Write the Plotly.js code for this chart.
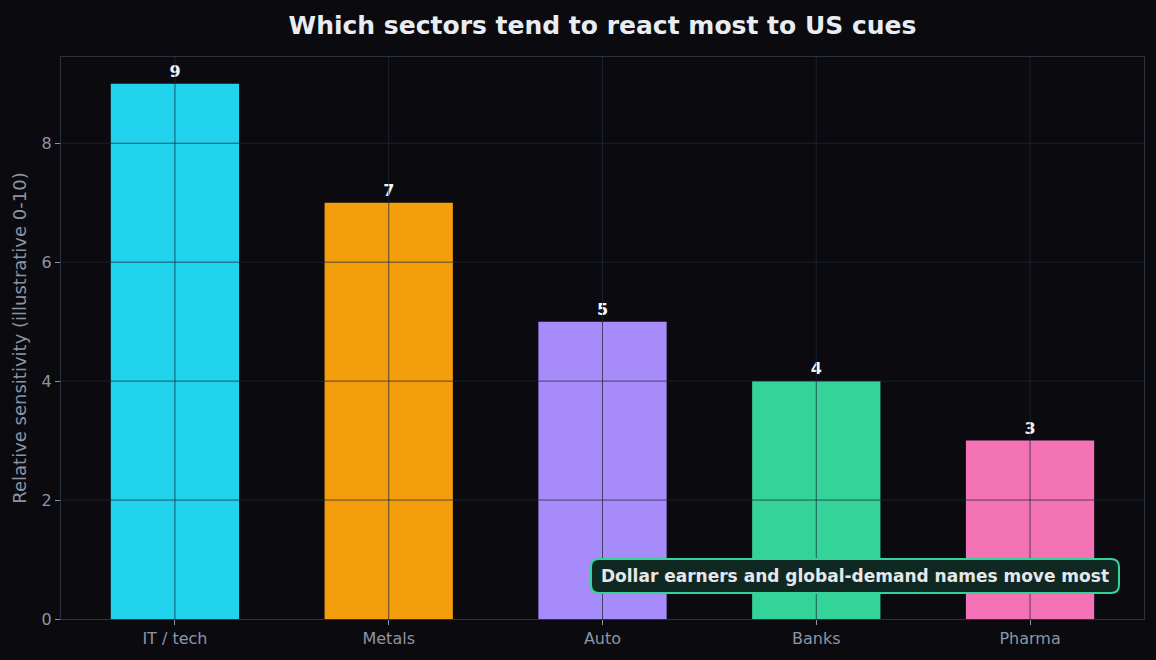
<!DOCTYPE html>
<html><head><meta charset="utf-8">
<script src="https://cdn.plot.ly/plotly-3.0.1.min.js"></script>
<style>html,body{margin:0;padding:0;background:#0b0b0f;}</style>
</head><body>
<div id="chart" style="width:1156px;height:660px;"></div>
<script>
const sectors = ["IT / tech", "Metals", "Auto", "Banks", "Pharma"];
const sensitivity = [9, 7, 5, 4, 3];
const barColors = ["#22d3ee", "#f59e0b", "#a78bfa", "#34d399", "#f472b6"];
const yTicks = [0, 2, 4, 6, 8];
const chartTitle = "Which sectors tend to react most to US cues";
const yTitle = "Relative sensitivity (illustrative 0-10)";
const note = "Dollar earners and global-demand names move most";

const W = 1156, H = 660;
const M = {l: 61, r: 12, t: 57, b: 41};
const PW = W - M.l - M.r, PH = H - M.t - M.b;
const gridColor = "rgba(30,41,59,0.75)";

const trace = {
  type: "bar",
  x: sectors,
  y: sensitivity,
  width: 0.6,
  marker: {color: barColors, line: {width: 0}},
  text: sensitivity.map(v => "<b>" + v + "</b>"),
  textposition: "outside",
  cliponaxis: false,
  textfont: {family: "DejaVu Sans", size: 16, color: "#f1f5f9"},
  hoverinfo: "x+y"
};

// gridlines drawn above the bars (as in the reference)
const shapes = [];
yTicks.slice(1).forEach(v => shapes.push({type: "line", xref: "paper", yref: "y", x0: 0, x1: 1, y0: v, y1: v,
  line: {color: gridColor, width: 1}, layer: "above"}));
sectors.forEach(c => shapes.push({type: "line", xref: "x", yref: "paper", x0: c, x1: c, y0: 0, y1: 1,
  line: {color: gridColor, width: 1}, layer: "above"}));

// rounded box behind the note (pixel box converted to paper units)
function px2x(p){ return (p - M.l) / PW; }
function px2y(p){ return (H - M.b - p) / PH; }
const bx0 = 591, bx1 = 1119, by0 = 559, by1 = 593, r = 8;
const rx = r / PW, ry = r / PH;
const X0 = px2x(bx0), X1 = px2x(bx1), Yt = px2y(by0), Yb = px2y(by1);
const path = `M ${X0+rx},${Yt} L ${X1-rx},${Yt} Q ${X1},${Yt} ${X1},${Yt-ry} L ${X1},${Yb+ry} Q ${X1},${Yb} ${X1-rx},${Yb} L ${X0+rx},${Yb} Q ${X0},${Yb} ${X0},${Yb+ry} L ${X0},${Yt-ry} Q ${X0},${Yt} ${X0+rx},${Yt} Z`;
shapes.push({type: "path", xref: "paper", yref: "paper", path: path,
  fillcolor: "#0f2922", line: {color: "#34d399", width: 2}, layer: "above"});

const layout = {
  width: W, height: H,
  paper_bgcolor: "#0b0b0f",
  plot_bgcolor: "#0b0b0f",
  font: {family: "DejaVu Sans", color: "#8b95a5"},
  margin: M,
  showlegend: false,
  title: {text: "<b>" + chartTitle + "</b>", x: 0.5, xref: "paper", xanchor: "center", y: 0.962, yref: "container", yanchor: "middle",
          font: {family: "DejaVu Sans", size: 25, color: "#e8edf3"}},
  xaxis: {
    type: "category",
    range: [-0.533, 4.533],
    tickfont: {size: 16, color: "#8b95a5"},
    ticks: "outside", ticklen: 5, tickcolor: "#8b95a5", tickwidth: 1,
    showgrid: false,
    showline: true, linecolor: "#2a3441", linewidth: 1, mirror: true,
    zeroline: false
  },
  yaxis: {
    range: [0, 9.45],
    tickvals: yTicks,
    ticktext: yTicks.map(String),
    tickfont: {size: 16, color: "#8b95a5"},
    ticks: "outside", ticklen: 5, tickcolor: "#8b95a5", tickwidth: 1,
    showgrid: false,
    showline: true, linecolor: "#2a3441", linewidth: 1, mirror: true,
    zeroline: false,
    title: {text: yTitle, font: {size: 18, color: "#8b95a5"}, standoff: 10}
  },
  shapes: shapes,
  annotations: [{
    text: "<b>" + note + "</b>",
    xref: "paper", yref: "paper",
    x: (px2x(bx0) + px2x(bx1)) / 2, y: (px2y(by0) + px2y(by1)) / 2, xanchor: "center", yanchor: "middle",
    showarrow: false,
    font: {family: "DejaVu Sans", size: 17, color: "#e5e7eb"}
  }]
};

Plotly.newPlot("chart", [trace], layout, {displayModeBar: false, staticPlot: true});
</script>
</body></html>
